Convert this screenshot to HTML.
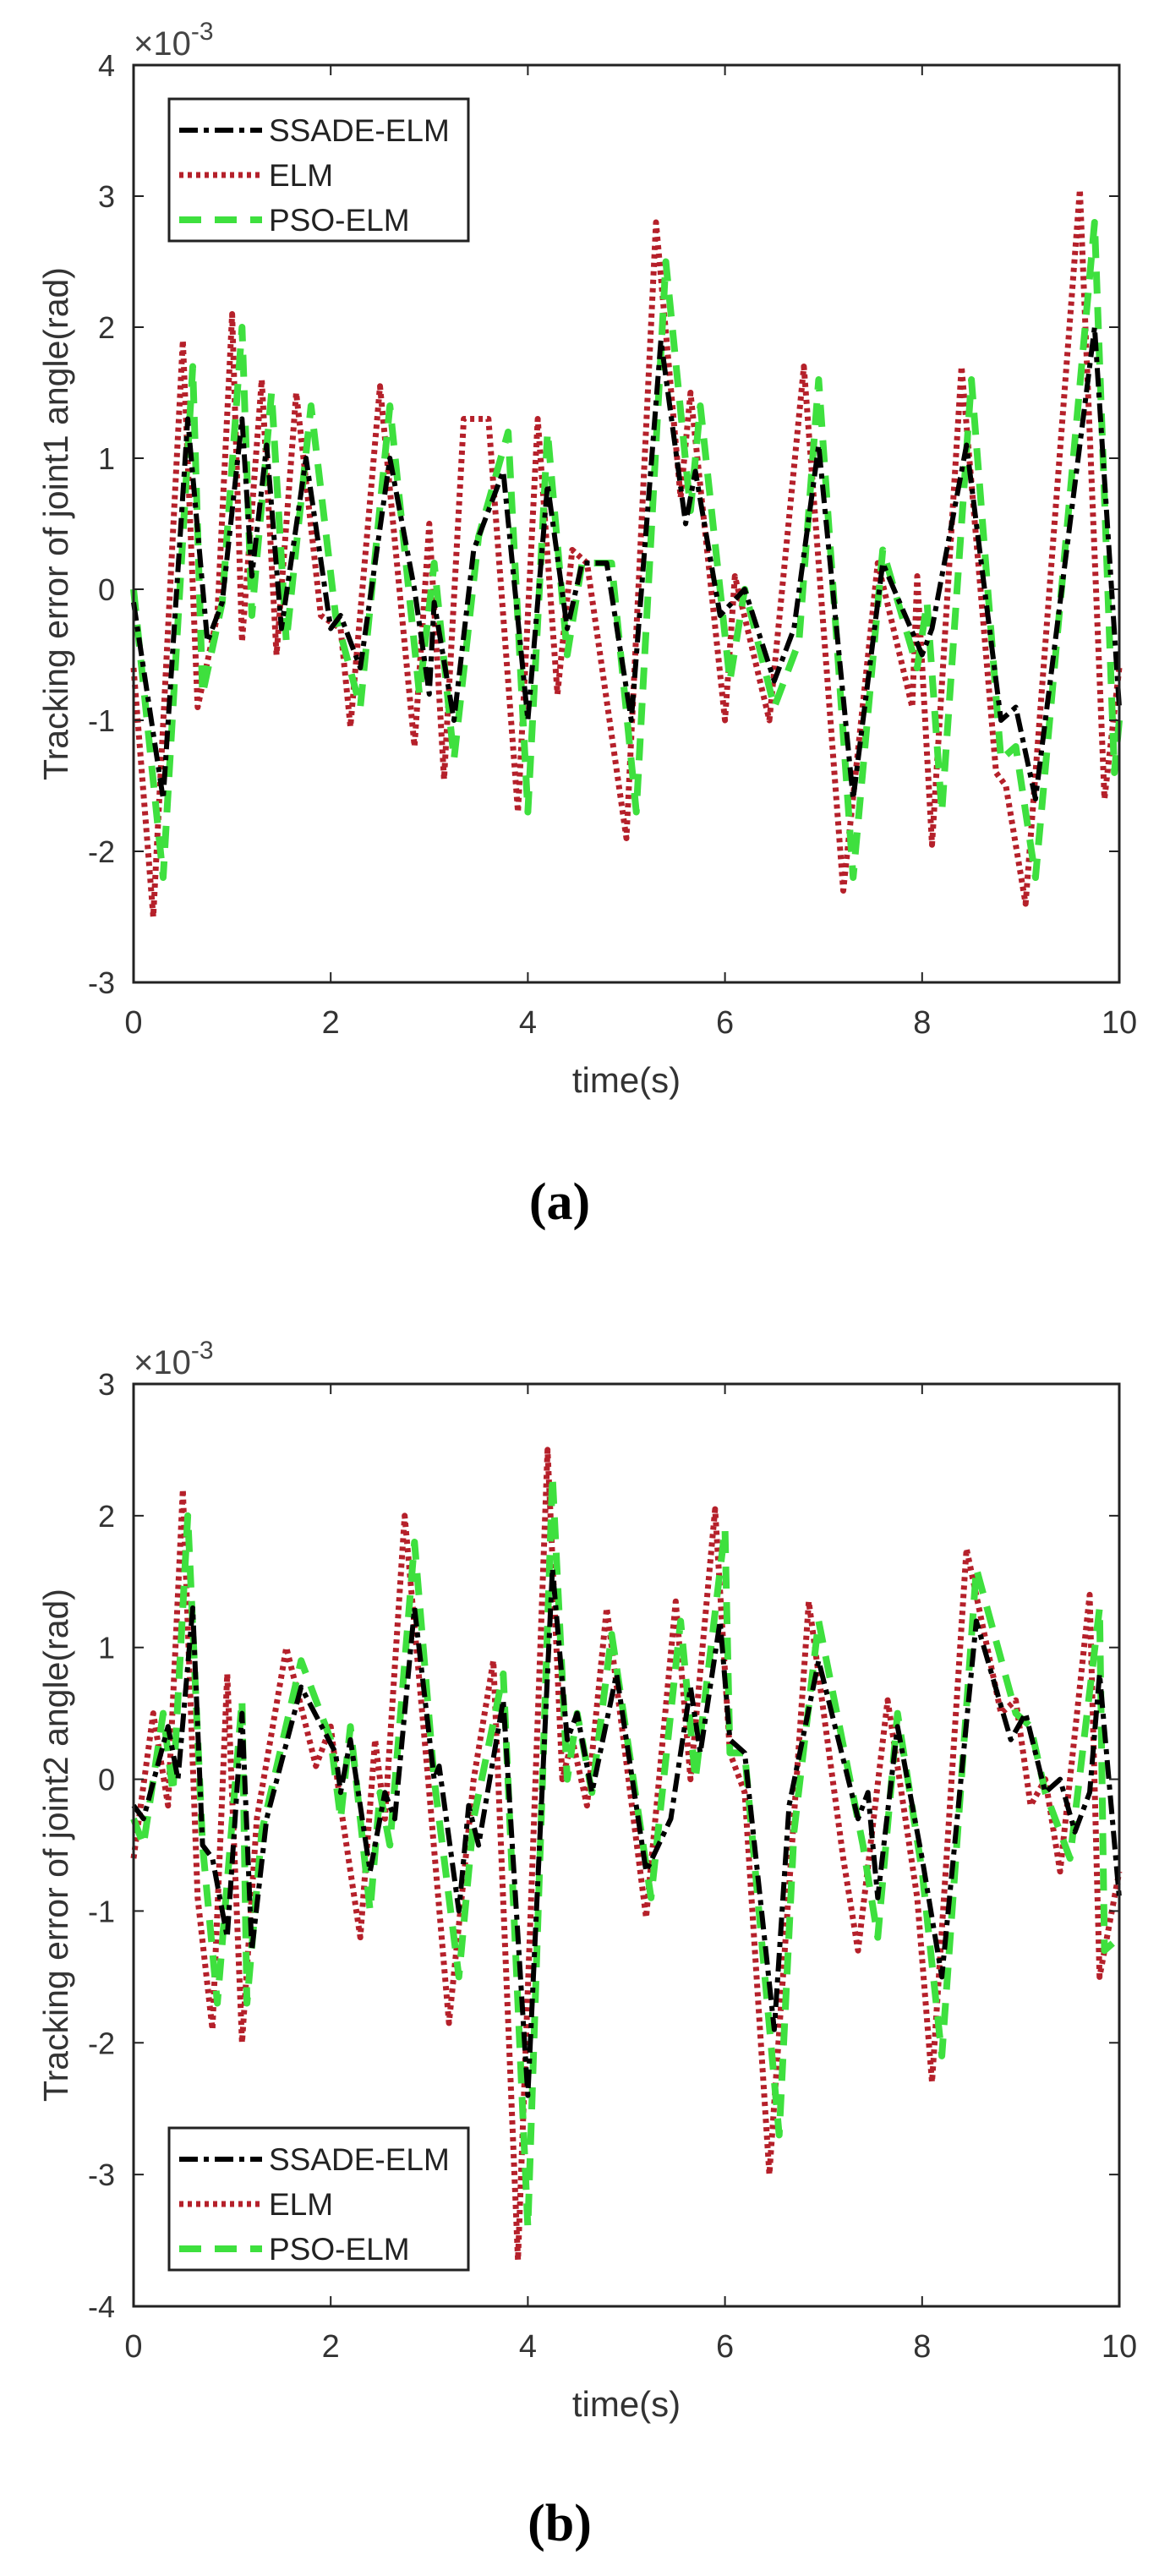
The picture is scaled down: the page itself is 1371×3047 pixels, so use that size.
<!DOCTYPE html>
<html><head><meta charset="utf-8">
<style>
html,body{margin:0;padding:0;background:#fff;}
svg{display:block;font-family:"Liberation Sans",Arial,sans-serif;}
</style></head>
<body>
<svg id="fig" width="1371" height="3047" viewBox="0 0 1371 3047"></svg>
<script>
// ---- Chart (a) data: joint1 tracking error (x10^-3 rad) ----
const aSsadeT=[0,0.3,0.55,0.75,0.9,1.1,1.2,1.35,1.5,1.75,2.0,2.1,2.3,2.6,2.85,3.0,3.05,3.25,3.45,3.75,4.0,4.2,4.4,4.55,4.8,5.05,5.35,5.6,5.7,5.95,6.2,6.5,6.7,6.95,7.3,7.6,8.0,8.1,8.45,8.8,8.95,9.15,9.55,9.75,10];
const aSsadeV=[-0.1,-1.6,1.3,-0.4,-0.1,1.3,0.1,1.1,-0.3,1.0,-0.3,-0.2,-0.6,1.0,0.0,-0.8,-0.1,-1.0,0.3,0.9,-1.0,0.8,-0.3,0.2,0.2,-1.0,1.9,0.5,0.9,-0.2,0.0,-0.7,-0.3,1.1,-1.6,0.2,-0.5,-0.3,1.1,-1.0,-0.9,-1.6,0.8,2.0,-0.9];
const aElmT=[0,0.2,0.5,0.65,0.85,1.0,1.1,1.3,1.45,1.65,1.9,2.1,2.2,2.5,2.85,3.0,3.15,3.35,3.6,3.9,4.1,4.3,4.45,4.6,5.0,5.3,5.55,5.65,6.0,6.1,6.45,6.8,7.2,7.55,7.9,7.95,8.1,8.4,8.75,8.85,9.05,9.6,9.85,10];
const aElmV=[-0.6,-2.5,1.9,-0.9,-0.2,2.1,-0.4,1.6,-0.5,1.5,-0.2,-0.3,-1.05,1.55,-1.2,0.5,-1.45,1.3,1.3,-1.7,1.3,-0.8,0.3,0.2,-1.9,2.8,0.7,1.5,-1.0,0.1,-1.0,1.7,-2.3,0.2,-0.9,0.1,-1.95,1.7,-1.4,-1.5,-2.4,3.05,-1.6,-0.6];
const aPsoT=[0,0.3,0.6,0.7,0.9,1.1,1.2,1.4,1.55,1.8,2.05,2.3,2.6,2.9,3.05,3.25,3.5,3.8,4.0,4.2,4.4,4.55,4.85,5.1,5.4,5.65,5.75,6.05,6.2,6.5,6.75,6.95,7.3,7.6,7.95,8.05,8.2,8.5,8.8,8.95,9.15,9.75,9.95,10];
const aPsoV=[0.0,-2.2,1.7,-0.8,-0.1,2.0,-0.2,1.5,-0.4,1.4,-0.2,-0.9,1.4,-0.8,0.2,-1.3,0.4,1.2,-1.7,1.2,-0.5,0.2,0.2,-1.7,2.5,0.6,1.4,-0.7,0.0,-0.9,-0.4,1.6,-2.2,0.3,-0.6,-0.1,-1.7,1.6,-1.3,-1.2,-2.2,2.8,-1.4,-1.0];
const aYTicks=[4,3,2,1,0,-1,-2,-3];
// ---- Chart (b) data: joint2 tracking error (x10^-3 rad) ----
const bSsadeT=[0,0.1,0.35,0.45,0.6,0.7,0.8,0.95,1.1,1.2,1.35,1.7,2.05,2.1,2.2,2.4,2.55,2.65,2.85,3.05,3.1,3.3,3.4,3.5,3.75,4.0,4.25,4.4,4.5,4.65,4.9,5.2,5.45,5.65,5.75,5.95,6.05,6.2,6.5,6.65,6.95,7.35,7.45,7.55,7.75,8.0,8.2,8.55,8.9,9.05,9.25,9.4,9.55,9.7,9.8,10];
const bSsadeV=[-0.2,-0.3,0.4,0.0,1.3,-0.5,-0.6,-1.2,0.5,-1.3,-0.3,0.7,0.2,-0.1,0.3,-0.7,-0.1,-0.3,1.3,0.0,0.1,-1.0,-0.2,-0.5,0.6,-2.4,1.6,0.3,0.5,-0.1,0.8,-0.7,-0.3,0.7,0.2,1.2,0.3,0.2,-1.9,-0.2,0.9,-0.3,-0.1,-0.9,0.4,-0.6,-1.5,1.2,0.3,0.5,-0.1,0.0,-0.4,-0.1,0.8,-0.9];
const bElmT=[0,0.2,0.35,0.5,0.65,0.8,0.95,1.1,1.25,1.55,1.85,2.0,2.1,2.3,2.45,2.55,2.75,3.0,3.2,3.45,3.65,3.9,4.2,4.35,4.45,4.6,4.8,5.2,5.5,5.65,5.9,6.05,6.2,6.45,6.85,7.2,7.35,7.65,7.95,8.1,8.45,8.8,8.95,9.1,9.25,9.4,9.7,9.8,10];
const bElmV=[-0.6,0.5,-0.2,2.2,-0.9,-1.9,0.8,-2.0,-0.3,1.0,0.1,0.4,-0.2,-1.2,0.3,-0.3,2.0,-0.1,-1.85,0.0,0.9,-3.65,2.5,0.0,0.3,-0.2,1.3,-1.05,1.35,0.0,2.05,0.2,-0.1,-3.0,1.35,-0.6,-1.3,0.6,-0.9,-2.3,1.75,0.5,0.6,-0.2,0.0,-0.7,1.4,-1.5,-0.7];
const bPsoT=[0,0.1,0.3,0.4,0.55,0.7,0.85,1.1,1.15,1.3,1.7,2.0,2.1,2.2,2.4,2.5,2.6,2.85,3.05,3.3,3.45,3.75,4.0,4.25,4.4,4.5,4.65,4.85,5.25,5.55,5.7,6.0,6.05,6.2,6.55,6.7,6.95,7.4,7.55,7.75,8.0,8.2,8.55,8.95,9.1,9.25,9.5,9.8,9.85,10];
const bPsoV=[-0.3,-0.5,0.5,-0.1,2.0,-0.5,-1.7,0.6,-1.7,-0.4,0.9,0.3,-0.3,0.4,-1.0,-0.1,-0.5,1.8,0.0,-1.5,-0.3,0.8,-3.4,2.3,0.0,0.5,-0.1,1.1,-0.9,1.2,0.0,1.9,0.2,0.2,-2.7,-0.4,1.2,-0.5,-1.2,0.5,-0.7,-2.1,1.6,0.5,0.4,-0.1,-0.6,1.3,-1.3,-1.2];
const bYTicks=[3,2,1,0,-1,-2,-3,-4];
const xTicks=[0,2,4,6,8,10];
const seriesNames=["SSADE-ELM","ELM","PSO-ELM"];

const NS="http://www.w3.org/2000/svg";
const svg=document.getElementById('fig');
function mk(tag,attrs,parent,text){
  const e=document.createElementNS(NS,tag);
  for(const k in attrs) e.setAttribute(k,attrs[k]);
  if(text!==undefined) e.textContent=text;
  (parent||svg).appendChild(e);
  return e;
}
const styles=[
  {stroke:"#000",w:6,dash:"22 7 6 7"},
  {stroke:"#b5202a",w:7,dash:"5 5"},
  {stroke:"#3ee03e",w:8,dash:"26 16"}
];

function drawChart(cfg){
  const g=mk('g',{});
  
  
  const L=158,R=1324,T=cfg.top,B=cfg.bottom;
  const ymax=cfg.yTicks[0], ymin=cfg.yTicks[cfg.yTicks.length-1];
  const xs=t=>L+(t-0)/(10-0)*(R-L);
  const ys=v=>T+(ymax-v)/(ymax-ymin)*(B-T);
  const data=[[cfg.sT,cfg.sV],[cfg.eT,cfg.eV],[cfg.pT,cfg.pV]];
  const order=[1,2,0];
  for(const i of order){
    const d=data[i][0].map((t,j)=>(j?'L':'M')+xs(t).toFixed(1)+' '+ys(data[i][1][j]).toFixed(1)).join(' ');
    const p=mk('path',{d:d,fill:'none',stroke:styles[i].stroke,'stroke-width':styles[i].w,'stroke-dasharray':styles[i].dash,'stroke-linejoin':'round'},g);
    
    
  }
  const fr=mk('rect',{x:L,y:T,width:R-L,height:B-T,fill:'none',stroke:'#222','stroke-width':3},g);
  
  
  for(const v of cfg.yTicks){
    const y=ys(v);
    mk('line',{x1:L,y1:y,x2:L+12,y2:y,stroke:'#222','stroke-width':2},g);
    mk('line',{x1:R,y1:y,x2:R-12,y2:y,stroke:'#222','stroke-width':2},g);
    const tx=mk('text',{x:L-22,y:y+13,'font-size':36,'text-anchor':'end',fill:'#333'},g,String(v));
    
    
  }
  for(const t of xTicks){
    const x=xs(t);
    mk('line',{x1:x,y1:B,x2:x,y2:B-12,stroke:'#222','stroke-width':2},g);
    mk('line',{x1:x,y1:T,x2:x,y2:T+12,stroke:'#222','stroke-width':2},g);
    const tx=mk('text',{x:x,y:B+60,'font-size':38,'text-anchor':'middle',fill:'#333'},g,String(t));
    
    
  }
  const ex=mk('text',{x:L,y:T-12,'font-size':40,fill:'#444'},g);
  
  
  mk('tspan',{},ex,'\u00d710');
  mk('tspan',{dy:-18,'font-size':30},ex,'-3');
  const xt=mk('text',{x:(L+R)/2,y:B+130,'font-size':42,'text-anchor':'middle',fill:'#333'},g,'time(s)');
  
  
  const cy=(T+B)/2;
  const yt=mk('text',{x:66,y:cy,'font-size':41,'text-anchor':'middle',fill:'#333',transform:'rotate(-90 66 '+cy+') translate(0 14)'},g,cfg.ytitle);
  
  
  const lg=mk('g',{},g);
  
  
  mk('rect',{x:200,y:cfg.legTop,width:354,height:168,fill:'#fff',stroke:'#222','stroke-width':3},lg);
  for(let i=0;i<3;i++){
    const yy=cfg.legTop+37+i*53;
    const en=mk('g',{},lg);
    
    
    mk('line',{x1:212,y1:yy,x2:310,y2:yy,stroke:styles[i].stroke,'stroke-width':styles[i].w,'stroke-dasharray':styles[i].dash},en);
    mk('text',{x:318,y:yy+13,'font-size':37,fill:'#222'},en,seriesNames[i]);
  }
  const cap=mk('text',{x:662,y:cfg.capY,'font-size':62,'font-weight':'bold','text-anchor':'middle','font-family':'"Liberation Serif",serif',fill:'#000'},g,cfg.caption);
  
  
}
drawChart({name:'chart-a',prefix:'a',top:77,bottom:1162,yTicks:aYTicks,sT:aSsadeT,sV:aSsadeV,eT:aElmT,eV:aElmV,pT:aPsoT,pV:aPsoV,ytitle:'Tracking error of joint1 angle(rad)',legTop:117,capY:1442,caption:'(a)'});
drawChart({name:'chart-b',prefix:'b',top:1637,bottom:2728,yTicks:bYTicks,sT:bSsadeT,sV:bSsadeV,eT:bElmT,eV:bElmV,pT:bPsoT,pV:bPsoV,ytitle:'Tracking error of joint2 angle(rad)',legTop:2517,capY:3005,caption:'(b)'});
</script>
</body></html>
